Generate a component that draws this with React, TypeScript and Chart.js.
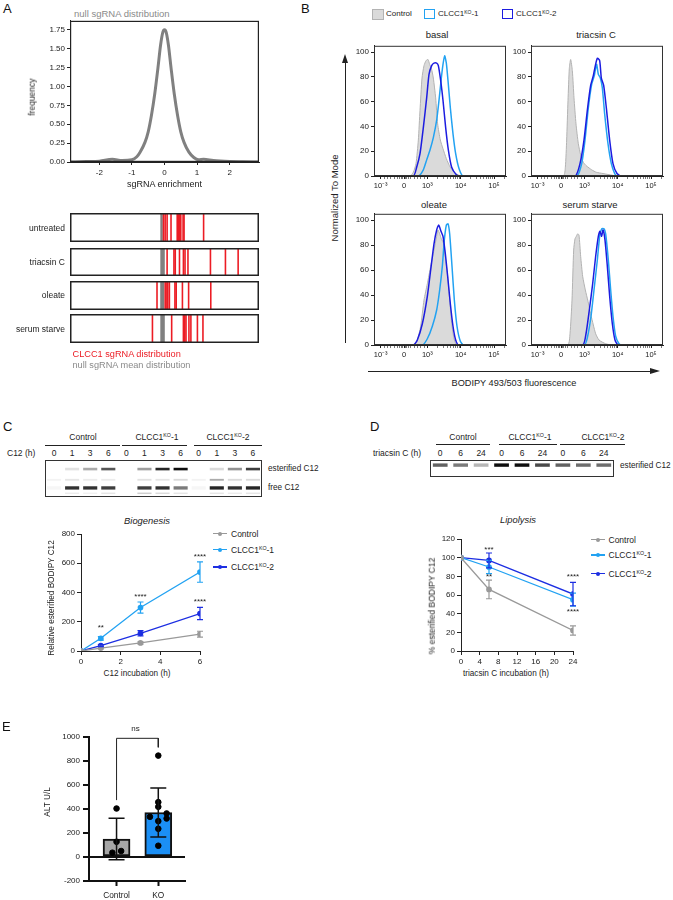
import React, { useEffect, useRef } from "react";
import { Chart, registerables } from "chart.js";

Chart.register(...registerables);

const FONT = '"Liberation Sans", Arial, Helvetica, sans-serif';
Chart.defaults.font.family = FONT;
Chart.defaults.color = "#222";

// ---------------- Panel A data ----------------
const densityX = [-2.9, -2.4, -2.0, -1.6, -1.3, -1.0, -0.85, -0.75, -0.6, -0.5, -0.4, -0.3, -0.2, -0.12, -0.05, 0, 0.05, 0.12, 0.2, 0.3, 0.4, 0.5, 0.6, 0.75, 0.9, 1.05, 1.2, 1.5, 2.0, 2.4, 2.9];
const densityY = [0.0, 0.005, 0.01, 0.035, 0.02, 0.03, 0.07, 0.13, 0.26, 0.4, 0.62, 0.9, 1.25, 1.55, 1.72, 1.75, 1.72, 1.55, 1.25, 0.9, 0.62, 0.4, 0.26, 0.13, 0.06, 0.03, 0.035, 0.02, 0.008, 0.004, 0.0];
const stripRows = ["untreated", "triacsin C", "oleate", "serum starve"];
const nullMeans = [-0.09, -0.06, -0.07, -0.06];
const clccUntreated = [-0.03, 0.02, 0.08, 0.2, 0.39, 0.43, 0.47, 0.5, 0.57, 0.6, 1.2];
const clccTriacsin = [0.08, 0.29, 0.33, 0.46, 0.58, 0.63, 0.72, 1.41, 1.87, 2.26];
const clccOleate = [-0.23, 0.02, 0.05, 0.1, 0.15, 0.32, 0.36, 0.55, 0.74, 1.42];
const clccSerum = [-0.37, 0.22, 0.58, 0.62, 0.66, 0.75, 0.81, 1.01, 1.18];

// ---------------- Panel B data (x in display decades, 0 = zero) ----------------
const flowMajor = [-0.7, 0, 0.7, 1.7, 2.7];
const flowMajorLabels = ["10⁻³", "0", "10³", "10⁴", "10⁵"];
const basalControl: [number, number][] = [[0.18, 0], [0.28, 3], [0.36, 10], [0.43, 29], [0.48, 53], [0.54, 79], [0.6, 89], [0.66, 93], [0.72, 94], [0.77, 90], [0.82, 87], [0.88, 79], [0.95, 63], [1.01, 42], [1.09, 29], [1.17, 22], [1.27, 14], [1.39, 7], [1.55, 2], [1.72, 0]];
const basalKO1: [number, number][] = [[0.43, 0], [0.58, 5], [0.68, 13], [0.78, 21], [0.88, 31], [0.98, 45], [1.05, 61], [1.12, 79], [1.17, 90], [1.22, 97], [1.27, 91], [1.32, 77], [1.39, 55], [1.47, 34], [1.55, 18], [1.65, 6], [1.77, 0]];
const basalKO2: [number, number][] = [[0.28, 0], [0.38, 7], [0.48, 18], [0.58, 39], [0.68, 63], [0.75, 82], [0.83, 89], [0.9, 91], [0.98, 91], [1.03, 89], [1.1, 77], [1.17, 61], [1.25, 39], [1.33, 21], [1.43, 7], [1.57, 1], [1.67, 0]];
const triControl: [number, number][] = [[0.07, 0], [0.13, 7], [0.17, 29], [0.21, 61], [0.25, 87], [0.29, 94], [0.34, 85], [0.39, 63], [0.45, 42], [0.52, 26], [0.59, 17], [0.67, 11], [0.77, 8], [0.92, 5], [1.06, 3], [1.26, 2], [1.56, 0.5], [1.76, 0]];
const triKO1: [number, number][] = [[0.47, 0], [0.62, 10], [0.72, 29], [0.82, 55], [0.92, 74], [1.0, 81], [1.04, 87], [1.07, 90], [1.12, 82], [1.18, 79], [1.24, 71], [1.31, 50], [1.41, 26], [1.51, 10], [1.61, 2], [1.68, 0]];
const triKO2: [number, number][] = [[0.42, 0], [0.57, 10], [0.69, 29], [0.79, 53], [0.89, 73], [0.97, 81], [1.03, 89], [1.09, 95], [1.16, 93], [1.21, 79], [1.28, 73], [1.36, 55], [1.46, 29], [1.56, 10], [1.68, 2], [1.81, 0]];
const oleControl: [number, number][] = [[0.3, 0], [0.4, 4], [0.5, 15], [0.6, 36], [0.7, 49], [0.8, 63], [0.9, 76], [0.98, 87], [1.02, 92], [1.07, 89], [1.12, 85], [1.19, 81], [1.25, 68], [1.31, 55], [1.37, 36], [1.44, 15], [1.51, 4], [1.59, 0]];
const oleKO1: [number, number][] = [[0.55, 0], [0.7, 5], [0.85, 15], [0.98, 28], [1.07, 44], [1.15, 63], [1.21, 84], [1.27, 96], [1.32, 97], [1.37, 89], [1.44, 63], [1.51, 36], [1.59, 15], [1.69, 3], [1.79, 0]];
const oleKO2: [number, number][] = [[0.28, 0], [0.4, 4], [0.55, 17], [0.7, 39], [0.8, 60], [0.9, 81], [0.98, 92], [1.04, 96], [1.11, 91], [1.17, 87], [1.24, 73], [1.31, 55], [1.39, 33], [1.47, 15], [1.55, 4], [1.64, 0]];
const serControl: [number, number][] = [[0.2, 0], [0.27, 9], [0.33, 36], [0.38, 76], [0.42, 85], [0.46, 87], [0.5, 89], [0.54, 88], [0.59, 71], [0.65, 55], [0.73, 44], [0.81, 35], [0.89, 25], [0.97, 16], [1.04, 9], [1.14, 4], [1.34, 1], [1.54, 0]];
const serKO1: [number, number][] = [[0.7, 0], [0.8, 7], [0.9, 23], [0.99, 44], [1.09, 68], [1.16, 87], [1.22, 93], [1.29, 93], [1.34, 89], [1.42, 68], [1.49, 44], [1.56, 23], [1.64, 7], [1.74, 1], [1.82, 0]];
const serKO2: [number, number][] = [[0.65, 0], [0.75, 9], [0.85, 28], [0.95, 49], [1.04, 71], [1.12, 87], [1.17, 91], [1.22, 87], [1.26, 92], [1.32, 84], [1.39, 63], [1.46, 39], [1.54, 17], [1.62, 4], [1.72, 0]];

// ---------------- Panel C data ----------------
const cLanes = ["0", "1", "3", "6", "0", "1", "3", "6", "0", "1", "3", "6"];
const cEsterified = [0, 0.12, 0.35, 0.7, 0, 0.4, 0.9, 1.0, 0, 0.15, 0.45, 0.8];
const cFree = [0.04, 0.85, 0.85, 0.8, 0, 0.8, 0.85, 0.55, 0.04, 0.9, 0.85, 0.9];
const cMiddle = [0.05, 0.1, 0.08, 0.08, 0, 0.12, 0.1, 0.15, 0.05, 0.35, 0.15, 0.15];
const cLower = [0, 0.08, 0.06, 0.1, 0, 0.2, 0.15, 0.1, 0, 0.1, 0.08, 0.1];
const cTimes = [0, 1, 3, 6];
const cControl = [0, 20, 55, 115];
const cControlErr = [0, 5, 8, 20];
const cKO1 = [0, 87, 297, 540];
const cKO1Err = [0, 12, 38, 70];
const cKO2 = [0, 37, 121, 256];
const cKO2Err = [0, 7, 18, 42];
const cStarX = [1, 3, 6, 6];
const cStarY = [156, 368, 642, 334];
const cStarText = ["**", "****", "****", "****"];

// ---------------- Panel D data ----------------
const dLanes = ["0", "6", "24", "0", "6", "24", "0", "6", "24"];
const dEsterified = [0.65, 0.55, 0.3, 1.0, 1.0, 0.75, 0.65, 0.6, 0.6];
const dTimes = [0, 6, 24];
const dControl = [100, 66, 22];
const dControlErr = [0, 10, 5];
const dKO1 = [100, 90, 55];
const dKO1Err = [0, 7, 7];
const dKO2 = [100, 97, 61];
const dKO2Err = [0, 8, 12.5];
const dStarX = [6, 6, 24, 24];
const dStarY = [108, 79, 79, 42];
const dStarText = ["***", "**", "****", "****"];

// ---------------- Panel E data ----------------
const eGroups = ["Control", "KO"];
const eMeans = [150, 371];
const eSD = [172, 205];
const eControlPts = [404, 127, 36, 50];
const eControlJitter = [0, 0, -0.1, 0.11];
const eKOPts = [845, 457, 418, 363, 335, 321, 299, 235, 94];
const eKOJitter = [0, 0, 0, 0.2, -0.2, 0.2, 0, 0, 0];
const eBracketX = [0, 0, 1, 1];
const eBracketY = [474, 989, 989, 914];

// ---------------- colours ----------------
const GRAY_LINE = "#999999";
const LIGHT_BLUE = "#22a2f2";
const DARK_BLUE = "#1c2ee2";
const FLOW_DARK = "#1c1ce0";
const RED = "#ec1c24";

// ---------------- plugins ----------------
const errorBarPlugin = {
  id: "errorBars",
  afterDatasetsDraw(chart: any) {
    const { ctx } = chart;
    chart.data.datasets.forEach((ds: any, di: number) => {
      if (!ds.errors) return;
      const meta = chart.getDatasetMeta(di);
      const ys = chart.scales[meta.yAxisID];
      ctx.save();
      ctx.strokeStyle = ds.errorColor || ds.borderColor;
      ctx.lineWidth = ds.errorWidth || 1;
      meta.data.forEach((el: any, i: number) => {
        const e = ds.errors[i];
        if (!e) return;
        const raw = ds.data[i];
        const v = typeof raw === "number" ? raw : raw.y;
        const x = el.x;
        const yt = ys.getPixelForValue(v + e);
        const yb = ys.getPixelForValue(v - e);
        const c = ds.capWidth || 3;
        ctx.beginPath();
        ctx.moveTo(x, yt); ctx.lineTo(x, yb);
        ctx.moveTo(x - c, yt); ctx.lineTo(x + c, yt);
        ctx.moveTo(x - c, yb); ctx.lineTo(x + c, yb);
        ctx.stroke();
      });
      ctx.restore();
    });
  },
};
Chart.register(errorBarPlugin);

const framePlugin = (color: string, width: number) => ({
  id: "frameBox",
  afterDraw(chart: any) {
    const { ctx, chartArea: a } = chart;
    ctx.save();
    ctx.strokeStyle = color;
    ctx.lineWidth = width;
    const o = width / 2;
    ctx.strokeRect(a.left + o, a.top + o, a.right - a.left - width, a.bottom - a.top - width);
    ctx.restore();
  },
});

const starsPlugin = (xs: number[], ys: number[], texts: string[]) => ({
  id: "stars",
  afterDatasetsDraw(chart: any) {
    const { ctx } = chart;
    const sx = chart.scales.x, sy = chart.scales.y;
    ctx.save();
    ctx.font = `8px ${FONT}`;
    ctx.fillStyle = "#222";
    ctx.textAlign = "center";
    ctx.textBaseline = "middle";
    texts.forEach((t, i) => ctx.fillText(t, sx.getPixelForValue(xs[i]), sy.getPixelForValue(ys[i])));
    ctx.restore();
  },
});

// ---------------- helpers ----------------
const base = (pt: number, pr: number, pl = 0, pb = 0) => ({
  animation: false as const,
  responsive: false,
  maintainAspectRatio: false,
  events: [] as any[],
  layout: { padding: { top: pt, right: pr, left: pl, bottom: pb }, autoPadding: false },
  plugins: { legend: { display: false }, tooltip: { enabled: false } },
});
const fitW = (w: number) => (s: any) => { s.width = w; };
const fitH = (h: number) => (s: any) => { s.height = h; };

function ChartCanvas({ frame, pad, config }: any) {
  const ref = useRef<HTMLCanvasElement | null>(null);
  const [l, t, r, b] = frame;
  const [pl, pt, pr, pb] = pad;
  const W = r - l + pl + pr;
  const H = b - t + pt + pb;
  useEffect(() => {
    const c = new Chart(ref.current as HTMLCanvasElement, config);
    return () => c.destroy();
  }, []);
  return <canvas ref={ref} width={W} height={H} style={{ position: "absolute", left: l - pl, top: t - pt, width: W, height: H }} />;
}

function Txt({ x, y, children, size = 8.5, color = "#222", align = "left", style = {} }: any) {
  const tx = align === "left" ? "0" : align === "center" ? "-50%" : "-100%";
  return (
    <div style={{ position: "absolute", left: x, top: y, transform: `translate(${tx},-50%)`, fontSize: size, color, fontFamily: FONT, whiteSpace: "nowrap", lineHeight: 1, ...style }}>
      {children}
    </div>
  );
}
function VTxt({ x, y, children, size = 8.5, color = "#222" }: any) {
  return (
    <div style={{ position: "absolute", left: x, top: y, transform: "translate(-50%,-50%) rotate(-90deg)", fontSize: size, color, fontFamily: FONT, whiteSpace: "nowrap", lineHeight: 1 }}>
      {children}
    </div>
  );
}
const HLine = ({ x1, x2, y, w = 1, c = "#222" }: any) => <div style={{ position: "absolute", left: x1, top: y, width: x2 - x1, height: w, background: c }} />;
const KO = ({ n }: any) => (
  <>CLCC1<sup style={{ fontSize: "0.62em", verticalAlign: "0.5em", lineHeight: 0 }}>KO</sup>-{n}</>
);

// lane labels placed at the centres of the blot's category slots
function LaneLabels({ lanes, left, right, y }: any) {
  const w = (right - left) / lanes.length;
  return (
    <>
      {lanes.map((l: string, i: number) => (
        <Txt key={i} x={left + (i + 0.5) * w} y={y} size={8.5} align="center">{l}</Txt>
      ))}
    </>
  );
}

// ---------------- chart configs ----------------
const tickFont = { size: 8, family: FONT };

function densityConfig() {
  return {
    type: "line",
    data: { datasets: [{ data: densityX.map((x, i) => ({ x, y: densityY[i] })), borderColor: "#808080", borderWidth: 3, pointRadius: 0, cubicInterpolationMode: "monotone" }] },
    options: {
      ...base(6, 8),
      scales: {
        x: { type: "linear", min: -2.9, max: 2.9, ticks: { stepSize: 1, includeBounds: false, font: tickFont, padding: 3, color: "#222" }, grid: { drawOnChartArea: false, tickLength: 3, color: "#222" }, border: { color: "#222" }, afterFit: fitH(18) },
        y: { min: 0, max: 1.87, ticks: { stepSize: 0.25, includeBounds: false, font: tickFont, padding: 2, color: "#222", callback: (v: any) => Number(v).toFixed(2) }, grid: { drawOnChartArea: false, tickLength: 3, color: "#222" }, border: { color: "#222" }, afterFit: fitW(40) },
      },
    },
    plugins: [framePlugin("#222", 1.2)],
  };
}

function stripConfig(reds: number[], nullMean: number, grayW: number) {
  return {
    type: "scatter",
    data: {
      datasets: [
        { data: reds.map((x) => ({ x, y: 0.5 })), pointStyle: "line", pointRotation: 90, pointRadius: 16, pointBorderWidth: 1.6, pointBorderColor: RED, pointBackgroundColor: RED },
        { data: [{ x: nullMean, y: 0.5 }], pointStyle: "line", pointRotation: 90, pointRadius: 16, pointBorderWidth: grayW, pointBorderColor: "#808080", pointBackgroundColor: "#808080" },
      ],
    },
    options: {
      ...base(0, 0),
      scales: { x: { type: "linear", min: -2.9, max: 2.9, display: false }, y: { min: 0, max: 1, display: false } },
    },
    plugins: [framePlugin("#222", 1.5)],
  };
}

const FLOW_MIN = -0.9, FLOW_MAX = 3.06;
const flowTicks: number[] = (() => {
  const t = [...flowMajor, -0.6, -0.5, -0.4, -0.3, -0.2, -0.13, -0.08, -0.04, 0.04, 0.08, 0.13, 0.2, 0.3, 0.4, 0.5, 0.6];
  for (const d of [0.7, 1.7, 2.7]) for (let k = 2; k <= 9; k++) { const v = d + Math.log10(k); if (v <= FLOW_MAX) t.push(v); }
  return t.sort((a, b) => a - b);
})();

function flowConfig(control: [number, number][], ko1: [number, number][], ko2: [number, number][]) {
  const pts = (p: [number, number][]) => [{ x: FLOW_MIN, y: 0 }, ...p.map(([x, y]) => ({ x, y })), { x: FLOW_MAX, y: 0 }];
  return {
    type: "line",
    data: {
      datasets: [
        { data: pts(ko2), borderColor: FLOW_DARK, borderWidth: 1.5, pointRadius: 0, tension: 0.2, fill: false },
        { data: pts(ko1), borderColor: LIGHT_BLUE, borderWidth: 1.5, pointRadius: 0, tension: 0.2, fill: false },
        { data: pts(control), borderColor: "#b3b3b3", backgroundColor: "#dadada", borderWidth: 1, pointRadius: 0, tension: 0.2, fill: "origin" },
      ],
    },
    options: {
      ...base(6, 10),
      scales: {
        x: {
          type: "linear", min: FLOW_MIN, max: FLOW_MAX,
          afterBuildTicks: (s: any) => { s.ticks = flowTicks.map((v) => ({ value: v })); },
          ticks: { autoSkip: false, maxRotation: 0, font: { size: 7.5, family: FONT }, padding: 2, color: "#222", callback: (v: any) => { const i = flowMajor.findIndex((m) => Math.abs(m - v) < 1e-6); return i >= 0 ? flowMajorLabels[i] : ""; } },
          grid: { drawOnChartArea: false, tickLength: 3, color: "#222", tickWidth: (c: any) => (c.tick && flowMajor.some((m) => Math.abs(m - c.tick.value) < 1e-6) ? 1 : 0.6) },
          border: { color: "#222" },
          afterFit: fitH(16),
        },
        y: { min: 0, max: 105, ticks: { stepSize: 20, includeBounds: false, font: tickFont, padding: 2, color: "#222" }, grid: { drawOnChartArea: false, tickLength: 3, color: "#222" }, border: { color: "#222" }, afterFit: fitW(26) },
      },
    },
    plugins: [framePlugin("#333", 1)],
  };
}

function blotConfig(lanes: string[], rows: { vals: number[]; lo: number; hi: number }[], barPct: number) {
  return {
    type: "bar",
    data: {
      labels: lanes.map((l, i) => `${i}:${l}`),
      datasets: rows.map((r) => ({
        data: r.vals.map(() => [r.lo, r.hi]),
        backgroundColor: r.vals.map((a) => `rgba(14,14,14,${a})`),
        borderWidth: 0,
        grouped: false,
        categoryPercentage: 1,
        barPercentage: barPct,
      })),
    },
    options: {
      ...base(0, 0),
      scales: {
        x: { display: false, offset: true },
        y: { min: 0, max: 1, display: false },
      },
    },
    plugins: [framePlugin("#333", 1)],
  };
}

function timeConfig(xs: number[], series: { vals: number[]; errs: number[]; color: string }[], xMax: number, xStep: number, yMax: number, yStep: number, stars: any) {
  return {
    type: "line",
    data: {
      datasets: series.map((s) => ({
        data: xs.map((x, i) => ({ x, y: s.vals[i] })),
        borderColor: s.color, backgroundColor: s.color, pointBackgroundColor: s.color, pointBorderColor: s.color,
        borderWidth: 1.3, pointRadius: 2.2, tension: 0,
        errors: s.errs, errorColor: s.color, errorWidth: 1.2, capWidth: 3,
      })),
    },
    options: {
      ...base(8, 8),
      scales: {
        x: { type: "linear", min: 0, max: xMax, ticks: { stepSize: xStep, includeBounds: false, font: tickFont, padding: 2, color: "#222" }, grid: { drawOnChartArea: false, tickLength: 4, color: "#222" }, border: { color: "#222" }, afterFit: fitH(16) },
        y: { min: 0, max: yMax, ticks: { stepSize: yStep, includeBounds: false, font: tickFont, padding: 2, color: "#222" }, grid: { drawOnChartArea: false, tickLength: 4, color: "#222" }, border: { color: "#222" }, afterFit: fitW(40) },
      },
    },
    plugins: [stars],
  };
}

function barConfig() {
  return {
    type: "bar",
    data: {
      datasets: [
        { type: "scatter", data: eControlPts.map((y, i) => ({ x: 0 + eControlJitter[i], y })), pointRadius: 2.8, backgroundColor: "#000", borderColor: "#000", order: 0 },
        { type: "scatter", data: eKOPts.map((y, i) => ({ x: 1 + eKOJitter[i], y })), pointRadius: 2.8, backgroundColor: "#000", borderColor: "#000", order: 0 },
        { type: "line", data: eBracketX.map((x, i) => ({ x, y: eBracketY[i] })), borderColor: "#222", borderWidth: 1, pointRadius: 0, tension: 0, order: 0 },
        { type: "bar", data: eMeans.map((y, i) => ({ x: i, y })), backgroundColor: ["#a6a6a6", "#1b8ff5"], borderColor: "#111", borderWidth: 2, borderSkipped: false, barThickness: 27, errors: eSD, errorColor: "#111", errorWidth: 1.5, capWidth: 8, order: 1 },
      ],
    },
    options: {
      ...base(8, 8),
      scales: {
        x: {
          type: "linear", min: -0.66, max: 1.64, offset: false,
          afterBuildTicks: (s: any) => { s.ticks = eGroups.map((_, i) => ({ value: i })); },
          ticks: { font: { size: 8.3, family: FONT }, padding: 5, color: "#222", autoSkip: false, maxRotation: 0, callback: (v: any) => eGroups[Math.round(v)] ?? "" },
          grid: { offset: false, drawOnChartArea: false, tickLength: 5, tickWidth: 2, color: "#111" },
          border: { color: "#111", width: 2 },
          afterFit: fitH(20),
        },
        y: {
          min: -200, max: 1000,
          ticks: { stepSize: 200, font: tickFont, padding: 3, color: "#222", callback: (v: any) => String(v) },
          grid: { drawOnChartArea: true, color: (c: any) => (c.tick && c.tick.value === 0 ? "#111" : "rgba(0,0,0,0)"), lineWidth: 2, tickColor: "#111", tickLength: 6, tickWidth: 2 },
          border: { color: "#111", width: 2 },
          afterFit: fitW(40),
        },
      },
    },
  };
}

function LegendItem({ x, y, color, children }: any) {
  return (
    <>
      <div style={{ position: "absolute", left: x, top: y - 0.6, width: 14, height: 1.2, background: color }} />
      <div style={{ position: "absolute", left: x + 5, top: y - 2, width: 4, height: 4, borderRadius: 2, background: color }} />
      <Txt x={x + 18} y={y} size={8.5}>{children}</Txt>
    </>
  );
}

export default function App() {
  const stripData = [clccUntreated, clccTriacsin, clccOleate, clccSerum];
  const stripFrames = [[70, 213, 259, 242], [70, 248, 259, 276], [70, 281, 259, 310], [70, 314, 259, 343]];
  const stripGray = [2.5, 4.5, 4, 4.5];
  const stripY = [228, 262, 295, 329];
  return (
    <div style={{ position: "fixed", left: 0, top: 0, width: 673, height: 900, background: "#fff", overflow: "hidden", fontFamily: FONT }}>
      {/* ---------- Panel A ---------- */}
      <Txt x={3} y={8} size={13} color="#111">A</Txt>
      <Txt x={74} y={14} size={9.5} color="#8a8a8a">null sgRNA distribution</Txt>
      <ChartCanvas frame={[70, 20, 259, 162]} pad={[40, 6, 8, 18]} config={densityConfig()} />
      <VTxt x={31.5} y={97} size={8.5}>frequency</VTxt>
      <Txt x={164.5} y={183.5} size={9} align="center">sgRNA enrichment</Txt>
      {stripRows.map((r, i) => (
        <React.Fragment key={r}>
          <ChartCanvas frame={stripFrames[i]} pad={[0, 0, 0, 0]} config={stripConfig(stripData[i], nullMeans[i], stripGray[i])} />
          <Txt x={65} y={stripY[i]} size={8.5} align="right">{r}</Txt>
        </React.Fragment>
      ))}
      <Txt x={72.5} y={354.5} size={9.2} color={RED}>CLCC1 sgRNA distribution</Txt>
      <Txt x={72.5} y={365.7} size={9.2} color="#8a8a8a">null sgRNA mean distribution</Txt>

      {/* ---------- Panel B ---------- */}
      <Txt x={301} y={8} size={13} color="#111">B</Txt>
      <div style={{ position: "absolute", left: 372, top: 9, width: 10, height: 9, background: "#dadada", border: "1px solid #b3b3b3" }} />
      <Txt x={386} y={14} size={8}>Control</Txt>
      <div style={{ position: "absolute", left: 424, top: 9, width: 9, height: 8, border: `1.5px solid ${LIGHT_BLUE}` }} />
      <Txt x={438} y={14} size={8}><KO n={1} /></Txt>
      <div style={{ position: "absolute", left: 502, top: 9, width: 9, height: 8, border: `1.5px solid ${FLOW_DARK}` }} />
      <Txt x={516} y={14} size={8}><KO n={2} /></Txt>
      <Txt x={437} y={35} size={9.5} align="center">basal</Txt>
      <Txt x={596} y={35} size={9.5} align="center">triacsin C</Txt>
      <Txt x={434} y={205} size={9.5} align="center">oleate</Txt>
      <Txt x={590} y={205} size={9.5} align="center">serum starve</Txt>
      <ChartCanvas frame={[374, 45, 506, 176]} pad={[26, 6, 10, 16]} config={flowConfig(basalControl, basalKO1, basalKO2)} />
      <ChartCanvas frame={[531, 45, 664, 176]} pad={[26, 6, 9, 16]} config={flowConfig(triControl, triKO1, triKO2)} />
      <ChartCanvas frame={[374, 213, 506, 345]} pad={[26, 6, 10, 16]} config={flowConfig(oleControl, oleKO1, oleKO2)} />
      <ChartCanvas frame={[531, 213, 664, 345]} pad={[26, 6, 9, 16]} config={flowConfig(serControl, serKO1, serKO2)} />
      <VTxt x={335} y={198} size={9.5}>Normalized To Mode</VTxt>
      <div style={{ position: "absolute", left: 344.5, top: 62, width: 1.2, height: 281, background: "#222" }} />
      <div style={{ position: "absolute", left: 342, top: 54, width: 0, height: 0, borderLeft: "3px solid transparent", borderRight: "3px solid transparent", borderBottom: "9px solid #222" }} />
      <div style={{ position: "absolute", left: 368, top: 370.5, width: 284, height: 1.2, background: "#222" }} />
      <div style={{ position: "absolute", left: 650, top: 368, width: 0, height: 0, borderTop: "3px solid transparent", borderBottom: "3px solid transparent", borderLeft: "10px solid #222" }} />
      <Txt x={514} y={384} size={9.2} align="center">BODIPY 493/503 fluorescence</Txt>

      {/* ---------- Panel C ---------- */}
      <Txt x={3} y={426} size={13} color="#111">C</Txt>
      <Txt x={83} y={437} size={8.5} align="center">Control</Txt>
      <Txt x={157} y={437} size={8.5} align="center"><KO n={1} /></Txt>
      <Txt x={228} y={437} size={8.5} align="center"><KO n={2} /></Txt>
      <HLine x1={45} x2={120} y={445} />
      <HLine x1={122} x2={187} y={445} />
      <HLine x1={194} x2={262} y={445} />
      <Txt x={7} y={453} size={8.5}>C12 (h)</Txt>
      <LaneLabels lanes={cLanes} left={45} right={262} y={453} />
      <ChartCanvas frame={[45, 460, 262, 497]} pad={[0, 0, 0, 0]} config={blotConfig(cLanes, [
        { vals: cEsterified, lo: 0.72, hi: 0.79 },
        { vals: cFree, lo: 0.2, hi: 0.29 },
        { vals: cMiddle, lo: 0.44, hi: 0.49 },
        { vals: cLower, lo: 0.08, hi: 0.12 },
      ], 0.78)} />
      <Txt x={268} y={469} size={8.2}>esterified C12</Txt>
      <Txt x={268} y={488} size={8.2}>free C12</Txt>
      <Txt x={147} y={521} size={9.4} align="center" style={{ fontStyle: "italic" }}>Biogenesis</Txt>
      <ChartCanvas frame={[81, 534, 200, 651]} pad={[40, 8, 8, 16]} config={timeConfig(cTimes, [
        { vals: cControl, errs: cControlErr, color: GRAY_LINE },
        { vals: cKO1, errs: cKO1Err, color: LIGHT_BLUE },
        { vals: cKO2, errs: cKO2Err, color: DARK_BLUE },
      ], 6, 2, 800, 200, starsPlugin(cStarX, cStarY, cStarText))} />
      <VTxt x={52} y={598} size={8.2}>Relative esterified BODIPY C12</VTxt>
      <Txt x={137} y={674} size={8.2} align="center">C12 incubation (h)</Txt>
      <LegendItem x={213} y={533.5} color={GRAY_LINE}>Control</LegendItem>
      <LegendItem x={213} y={549.5} color={LIGHT_BLUE}><KO n={1} /></LegendItem>
      <LegendItem x={213} y={567} color={DARK_BLUE}><KO n={2} /></LegendItem>

      {/* ---------- Panel D ---------- */}
      <Txt x={370} y={426} size={13} color="#111">D</Txt>
      <Txt x={463} y={437} size={8.5} align="center">Control</Txt>
      <Txt x={530} y={437} size={8.5} align="center"><KO n={1} /></Txt>
      <Txt x={603} y={437} size={8.5} align="center"><KO n={2} /></Txt>
      <HLine x1={436} x2={490} y={444} />
      <HLine x1={499} x2={557} y={444} />
      <HLine x1={560} x2={625} y={444} />
      <Txt x={373} y={453} size={8.5}>triacsin C (h)</Txt>
      <LaneLabels lanes={dLanes} left={430} right={614} y={453} />
      <ChartCanvas frame={[430, 460, 614, 477]} pad={[0, 0, 0, 0]} config={blotConfig(dLanes, [
        { vals: dEsterified, lo: 0.6, hi: 0.8 },
      ], 0.72)} />
      <Txt x={620} y={466} size={8.2}>esterified C12</Txt>
      <Txt x={518} y={520} size={9.4} align="center" style={{ fontStyle: "italic" }}>Lipolysis</Txt>
      <ChartCanvas frame={[461, 539, 573, 651]} pad={[40, 8, 8, 16]} config={timeConfig(dTimes, [
        { vals: dControl, errs: dControlErr, color: GRAY_LINE },
        { vals: dKO1, errs: dKO1Err, color: LIGHT_BLUE },
        { vals: dKO2, errs: dKO2Err, color: DARK_BLUE },
      ], 24, 4, 120, 20, starsPlugin(dStarX, dStarY, dStarText))} />
      <VTxt x={432} y={606} size={8.5}>% esterified BODIPY C12</VTxt>
      <Txt x={506} y={673.5} size={8.2} align="center">triacsin C incubation (h)</Txt>
      <LegendItem x={590.5} y={539.5} color={GRAY_LINE}>Control</LegendItem>
      <LegendItem x={590.5} y={555} color={LIGHT_BLUE}><KO n={1} /></LegendItem>
      <LegendItem x={590.5} y={573.5} color={DARK_BLUE}><KO n={2} /></LegendItem>

      {/* ---------- Panel E ---------- */}
      <Txt x={2} y={726} size={13} color="#111">E</Txt>
      <ChartCanvas frame={[89, 737, 185, 881]} pad={[40, 8, 8, 20]} config={barConfig()} />
      <VTxt x={47} y={802} size={8.3}>ALT U/L</VTxt>
      <Txt x={135.5} y={729} size={8} align="center">ns</Txt>
    </div>
  );
}
